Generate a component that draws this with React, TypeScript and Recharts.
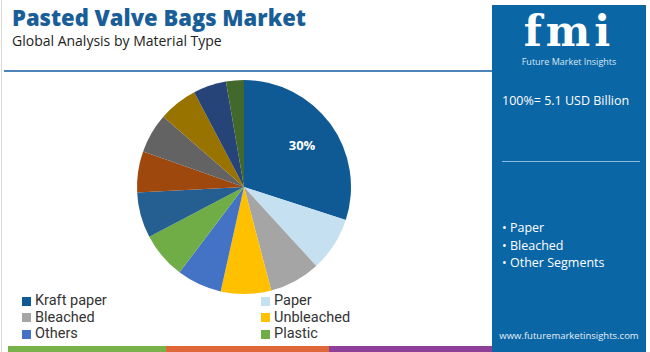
import React from "react";
import { PieChart, Pie, Cell, Legend } from "recharts";

const segments = [
  "Kraft paper",
  "Paper",
  "Bleached",
  "Unbleached",
  "Others",
  "Plastic",
  "Segment 7",
  "Segment 8",
  "Segment 9",
  "Segment 10",
  "Segment 11",
  "Segment 12",
];
const shares = [30, 8.2, 7.7, 7.6, 6.8, 7.0, 6.9, 6.2, 6.0, 5.9, 5.0, 2.7];
const colors = [
  "#0f5a94",
  "#c5e0f1",
  "#a5a5a5",
  "#ffc000",
  "#4472c4",
  "#70ad47",
  "#255e91",
  "#9e480e",
  "#636363",
  "#997300",
  "#264478",
  "#43682b",
];
const legendCount = 6;
const highlights = ["Paper", "Bleached", "Other Segments"];

const data = segments.map((name, i) => ({ name, value: shares[i] }));

const font = "'Open Sans', 'Noto Sans', sans-serif";

const renderLabel = (props: any) => {
  const { cx, cy, midAngle, outerRadius, index, percent } = props;
  if (index !== 0) return null;
  const rad = Math.PI / 180;
  const r = outerRadius * 0.67;
  const x = cx + r * Math.cos(-midAngle * rad);
  const y = cy + r * Math.sin(-midAngle * rad);
  return (
    <text
      x={x}
      y={y}
      fill="#ffffff"
      fontSize={13}
      fontWeight={700}
      fontFamily={font}
      textAnchor="middle"
      dominantBaseline="central">
      {`${Math.round(percent * 100)}%`}
    </text>
  );
};

// legend shows only the first six named segments, in data order
const renderLegend = () => {
  const items = segments.slice(0, legendCount);
  return (
    <div
      style={{
        display: "grid",
        gridTemplateColumns: "239px 200px",
        fontFamily: "Roboto, 'Open Sans', sans-serif",
        fontSize: 14.5,
        lineHeight: "16px",
        color: "#333",
      }}>
      {items.map((name, i) => (
        <div
          key={`lg-${i}`}
          style={{ display: "flex", alignItems: "center", height: 16.5 }}>
          <span
            style={{
              display: "inline-block",
              width: 9,
              height: 9,
              background: colors[i],
              marginRight: 4,
            }}
          />
          <span style={{ lineHeight: "16px" }}>{name}</span>
        </div>
      ))}
    </div>
  );
};

const App = () => {
  return (
    <div
      style={{
        position: "absolute",
        left: 0,
        top: 0,
        width: 650,
        height: 352,
        background: "#ffffff",
        overflow: "hidden",
        fontFamily: font,
      }}>
      <div
        style={{
          position: "absolute",
          left: 1,
          top: 0,
          width: 1,
          height: 352,
          background: "#d8d8d8",
        }}
      />
      <div
        style={{
          position: "absolute",
          left: 12,
          top: 2,
          fontSize: 22,
          fontWeight: 800,
          color: "#1a5e98",
          whiteSpace: "nowrap",
        }}>
        Pasted Valve Bags Market
      </div>
      <div
        style={{
          position: "absolute",
          left: 12,
          top: 31,
          fontSize: 14,
          color: "#222",
          whiteSpace: "nowrap",
        }}>
        Global Analysis by Material Type
      </div>
      <div
        style={{
          position: "absolute",
          left: 4,
          top: 70,
          width: 488,
          height: 2,
          background: "#4a84b8",
        }}
      />

      <div style={{ position: "absolute", left: 0, top: 0 }}>
        <PieChart
          width={490}
          height={352}
          margin={{ top: 0, right: 0, bottom: 0, left: 0 }}>
          <Pie
            data={data}
            dataKey="value"
            nameKey="name"
            cx={244}
            cy={187}
            outerRadius={107}
            startAngle={90}
            endAngle={-270}
            stroke="none"
            labelLine={false}
            label={renderLabel}
            isAnimationActive={false}>
            {data.map((d, i) => (
              <Cell key={`cell-${i}`} fill={colors[i]} />
            ))}
          </Pie>
          <Legend
            content={renderLegend}
            wrapperStyle={{ position: "absolute", left: 22, top: 293, width: 460 }}
          />
        </PieChart>
      </div>

      <div
        style={{
          position: "absolute",
          left: 8,
          top: 346,
          width: 158,
          height: 6,
          background: "#79b24a",
        }}
      />
      <div
        style={{
          position: "absolute",
          left: 166,
          top: 346,
          width: 163,
          height: 6,
          background: "#e0673a",
        }}
      />
      <div
        style={{
          position: "absolute",
          left: 329,
          top: 346,
          width: 163,
          height: 6,
          background: "#8e3f97",
        }}
      />

      <div
        style={{
          position: "absolute",
          left: 492,
          top: 5,
          width: 154,
          height: 347,
          background: "#0b66a5",
          color: "#ffffff",
        }}>
        <div
          style={{
            position: "absolute",
            left: 0,
            top: 6,
            width: 154,
            textAlign: "center",
            fontFamily: "'DejaVu Serif', serif",
            fontWeight: 700,
            fontSize: 42,
            lineHeight: "42px",
            letterSpacing: 4,
          }}>
          fmi
        </div>
        <div
          style={{
            position: "absolute",
            left: 0,
            top: 51,
            width: 154,
            textAlign: "center",
            fontSize: 9,
            lineHeight: "12px",
            color: "#d8e8f5",
          }}>
          Future Market Insights
        </div>
        <div
          style={{
            position: "absolute",
            left: 10,
            top: 87,
            fontSize: 12.5,
            whiteSpace: "nowrap",
          }}>
          100%= 5.1 USD Billion
        </div>
        <div
          style={{
            position: "absolute",
            left: 10,
            top: 156,
            width: 138,
            height: 1,
            background: "#8cbbe0",
          }}
        />
        <div
          style={{
            position: "absolute",
            left: 10,
            top: 214,
            fontSize: 12.5,
            lineHeight: "17.5px",
          }}>
          {highlights.map((h, i) => (
            <div key={`hl-${i}`}>{`\u2022 ${h}`}</div>
          ))}
        </div>
        <div
          style={{
            position: "absolute",
            left: 0,
            top: 324,
            width: 154,
            textAlign: "center",
            fontSize: 9.5,
            color: "#e6f0f8",
          }}>
          www.futuremarketinsights.com
        </div>
      </div>
    </div>
  );
};

export default App;
